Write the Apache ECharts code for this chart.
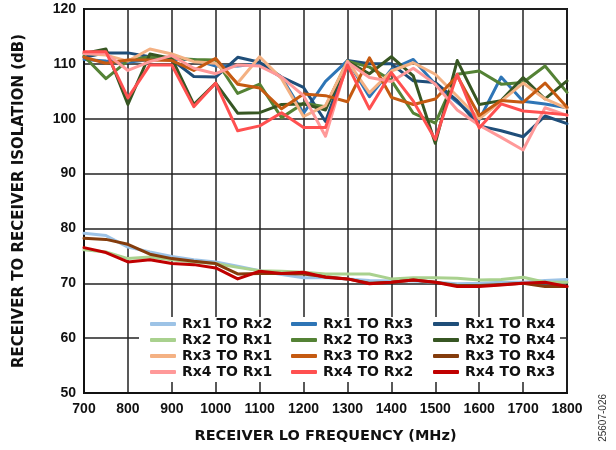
<!DOCTYPE html>
<html>
<head>
<meta charset="utf-8">
<script src="https://cdn.jsdelivr.net/npm/echarts@6/dist/echarts.min.js"></script>
<style>
html,body{margin:0;padding:0;background:#fff;}
#chart{width:616px;height:450px;}
</style>
</head>
<body>
<div id="chart"></div>
<script>
// Frequencies (MHz)
const freq = [700,750,800,850,900,950,1000,1050,1100,1150,1200,1250,1300,1350,1400,1450,1500,1550,1600,1650,1700,1750,1800];

// Isolation values (dB)
const rx1ToRx2 = [79.1,78.7,76.6,75.7,74.9,74.3,73.9,73.1,72.3,71.6,71.0,71.0,70.8,70.5,70.4,70.4,70.2,69.9,70.0,70.2,70.2,70.5,70.7];
const rx1ToRx3 = [110.8,110.5,110.3,110.8,110.8,110.8,109.6,109.6,110.0,107.5,101.0,106.8,110.6,104.0,109.0,110.8,106.3,103.0,99.8,107.6,103.2,102.7,102.0];
const rx1ToRx4 = [111.2,112.0,112.0,111.3,110.8,107.7,107.6,111.2,110.3,107.6,105.7,99.5,110.6,110.0,110.0,106.9,106.6,103.3,98.7,97.8,96.7,100.5,99.1];
const rx2ToRx1 = [76.1,75.7,74.5,74.8,74.3,73.9,73.6,72.9,72.3,72.2,72.0,71.7,71.7,71.7,70.8,71.0,71.0,70.9,70.6,70.7,71.1,70.2,70.2];
const rx2ToRx3 = [111.4,107.3,110.6,111.3,111.0,110.8,110.7,104.6,106.3,100.2,102.8,102.2,110.5,109.4,107.0,101.0,99.2,108.1,108.7,106.3,106.6,109.6,104.8];
const rx2ToRx4 = [111.9,112.7,102.6,111.8,111.0,102.6,106.5,101.0,101.1,102.6,102.7,101.6,110.4,108.2,111.3,107.8,95.5,110.6,102.6,103.3,107.5,103.6,106.9];
const rx3ToRx1 = [111.9,111.6,110.5,112.7,111.8,110.4,110.1,106.5,111.3,107.3,100.4,102.4,110.5,104.7,108.7,110.2,108.1,104.1,100.0,103.2,106.5,103.6,101.9];
const rx3ToRx2 = [111.2,110.1,110.7,110.7,110.6,108.8,111.0,106.3,105.6,101.8,104.5,104.2,103.1,111.1,103.9,102.6,103.6,107.8,100.6,103.3,103.0,106.5,102.1];
const rx3ToRx4 = [78.2,78.0,77.1,75.3,74.5,74.0,73.6,71.7,71.8,71.8,71.7,71.2,70.8,70.0,70.2,70.6,70.2,69.6,69.6,69.8,70.0,69.4,69.4];
const rx4ToRx1 = [111.9,111.9,108.8,110.4,111.5,109.2,108.2,109.8,109.6,107.6,104.2,96.8,110.3,107.5,106.8,109.2,106.3,101.6,98.8,96.6,94.3,102.0,100.6];
const rx4ToRx2 = [112.2,112.2,103.8,109.8,109.8,102.2,106.5,97.8,98.7,101.1,98.4,98.4,109.8,101.8,108.4,103.2,96.2,108.1,98.3,102.7,101.4,101.1,100.7];
const rx4ToRx3 = [76.5,75.6,73.9,74.3,73.6,73.4,72.8,70.8,72.2,71.8,72.0,71.1,70.8,69.9,70.2,70.6,70.2,69.4,69.4,69.7,70.0,70.2,69.4];

const seriesNames = ['Rx1 TO Rx2','Rx1 TO Rx3','Rx1 TO Rx4','Rx2 TO Rx1','Rx2 TO Rx3','Rx2 TO Rx4','Rx3 TO Rx1','Rx3 TO Rx2','Rx3 TO Rx4','Rx4 TO Rx1','Rx4 TO Rx2','Rx4 TO Rx3'];
const seriesValues = [rx1ToRx2,rx1ToRx3,rx1ToRx4,rx2ToRx1,rx2ToRx3,rx2ToRx4,rx3ToRx1,rx3ToRx2,rx3ToRx4,rx4ToRx1,rx4ToRx2,rx4ToRx3];
const seriesColors = ['#9dc3e6','#2e75b6','#1f4e79','#a9d18e','#548235','#375623','#f4b183','#c55a11','#843c0c','#ff9999','#ff5050','#c00000'];

const yTicks = [50,60,70,80,90,100,110,120];
const xTicks = [700,800,900,1000,1100,1200,1300,1400,1500,1600,1700,1800];

const FONT = '"Liberation Sans", Arial, sans-serif';
const WIDE = '"DejaVu Sans", "Liberation Sans", sans-serif';

const chart = echarts.init(document.getElementById('chart'), null, {renderer:'canvas'});

const series = seriesNames.map((name, i) => ({
  name: name,
  type: 'line',
  data: freq.map((f, j) => [f, seriesValues[i][j]]),
  showSymbol: false,
  symbol: 'none',
  lineStyle: { color: seriesColors[i], width: 3, cap: 'round', join: 'round' },
  itemStyle: { color: seriesColors[i] },
  emphasis: { disabled: true },
  animation: false
}));

function legendCol(idx, left) {
  return {
    orient: 'vertical',
    left: left,
    top: 317,
    padding: 0,
    itemGap: 2,
    itemWidth: 26,
    itemHeight: 4,
    icon: 'roundRect',
    data: [0,1,2,3].map(r => seriesNames[r*3 + idx]),
    textStyle: { fontFamily: WIDE, fontWeight: 'bold', fontSize: 14, color: '#111', lineHeight: 14, padding: [0,0,0,1] },
    selectedMode: false
  };
}

chart.setOption({
  backgroundColor: '#fff',
  animation: false,
  grid: { left: 84, right: 49, top: 9, bottom: 57, show: true, borderColor: '#111', borderWidth: 2, containLabel: false },
  xAxis: {
    type: 'value', min: 700, max: 1800, interval: 100,
    name: 'RECEIVER LO FREQUENCY (MHz)', nameLocation: 'middle', nameGap: 36,
    nameTextStyle: { fontFamily: WIDE, fontWeight: 'bold', fontSize: 14.5, color: '#111' },
    axisLine: { show: true, lineStyle: { color: '#111', width: 2 } },
    axisTick: { show: false },
    axisLabel: { fontFamily: FONT, fontWeight: 'bold', fontSize: 14, color: '#111', margin: 9,
      formatter: v => xTicks.includes(v) ? String(v) : '' },
    splitLine: { show: true, lineStyle: { color: '#222', width: 1.5 } }
  },
  yAxis: {
    type: 'value', min: 50, max: 120, interval: 10,
    name: 'RECEIVER TO RECEIVER ISOLATION (dB)', nameLocation: 'middle', nameGap: 57, nameRotate: 90,
    nameTextStyle: { fontFamily: WIDE, fontWeight: 'bold', fontSize: 15, color: '#111' },
    axisLine: { show: true, lineStyle: { color: '#111', width: 2 } },
    axisTick: { show: false },
    axisLabel: { fontFamily: FONT, fontWeight: 'bold', fontSize: 14, color: '#111', margin: 8,
      formatter: v => yTicks.includes(v) ? String(v) : '' },
    splitLine: { show: true, lineStyle: { color: '#222', width: 1.5 } }
  },
  legend: [legendCol(0, 150), legendCol(1, 291), legendCol(2, 433)],
  graphic: [
    { type: 'rect', left: 139, top: 317, z: 3, shape: { width: 421, height: 65 }, style: { fill: '#fff' } },
    { type: 'text', left: 598, top: 394, z: 5,
      style: { text: '25607-026', fontFamily: FONT, fontSize: 10, fill: '#333' }, rotation: Math.PI / 2 }
  ],
  series: series
});
</script>
</body>
</html>
